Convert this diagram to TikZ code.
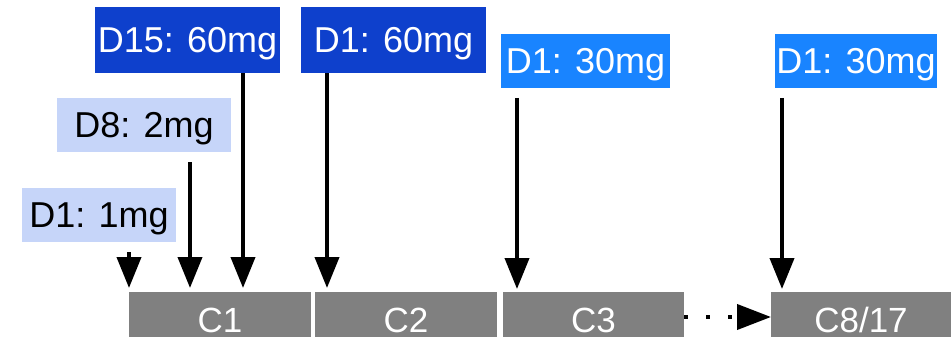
\documentclass[tikz,border=0pt]{standalone}
\usepackage{fontspec}
\setmainfont{Liberation Sans}
\usetikzlibrary{arrows.meta}
\definecolor{pale}{RGB}{198,213,249}
\definecolor{dark}{RGB}{14,64,204}
\definecolor{bright}{RGB}{25,132,255}
\definecolor{cyc}{RGB}{128,128,128}
\begin{document}
\begin{tikzpicture}[x=1pt,y=-1pt,
  lab/.style={inner sep=0pt, text height=25.8pt, text depth=0pt, font=\fontsize{36}{40}\selectfont},
  palelab/.style={lab, fill=pale, text=black, minimum height=54pt},
  darklab/.style={lab, fill=dark, text=white, minimum height=66pt},
  brightlab/.style={lab, fill=bright, text=white, minimum height=54pt},
  cycle/.style={fill=cyc, draw=none},
  cyctext/.style={text=white, inner sep=0pt, text height=25pt, text depth=0pt, font=\fontsize{35}{40}\selectfont},
  dose/.style={line width=4pt, -{Triangle[width=24pt,length=31pt]}},
]
\useasboundingbox (0,0) rectangle (951,337);
% cycle boxes
\fill[cycle] (129,292) rectangle (311,337);
\fill[cycle] (315,292) rectangle (497,337);
\fill[cycle] (503,292) rectangle (684,337);
\fill[cycle] (771,292) rectangle (951,337);
\node[cyctext] (c1) at (220,320) {C1};
\node[cyctext] (c2) at (406,320) {C2};
\node[cyctext] (c3) at (593.5,320) {C3};
\node[cyctext] (c8) at (861,320) {C8/17};
\coordinate (c3right) at (684,317);
\coordinate (c8left) at (771,317);
% labels
\node[palelab, minimum width=154pt] (l1) at (99,215) {D1: 1mg};
\node[palelab, minimum width=174pt] (l8) at (144,125) {D8: 2mg};
\node[darklab, minimum width=185pt] (l15) at (187.5,40) {D15: 60mg};
\node[darklab, minimum width=185pt] (l2) at (393.5,40) {D1: 60mg};
\node[brightlab, minimum width=169pt] (l3) at (585.5,61) {D1: 30mg};
\node[brightlab, minimum width=162pt] (l8b) at (856,61) {D1: 30mg};
% arrow start/end points
\coordinate (s1) at (129,252);
\coordinate (e1) at (129,288);
\coordinate (s8) at (190,162);
\coordinate (e8) at (190,288);
\coordinate (e15) at (243,288);
\coordinate (e2) at (327,288);
\coordinate (s3) at (517,98);
\coordinate (e3) at (517,289);
\coordinate (s8b) at (782,98);
\coordinate (e8b) at (782,289);
\draw[dose] (s1) -- (e1);
\draw[dose] (s8) -- (e8);
\draw[dose] (l15.south -| e15) -- (e15);
\draw[dose] (l2.south -| e2) -- (e2);
\draw[dose] (s3) -- (e3);
\draw[dose] (s8b) -- (e8b);
% continuation
\draw[line width=4pt, dash pattern=on 4pt off 18pt, -{Triangle[width=25pt,length=34pt]}] (c3right) -- (c8left);
\end{tikzpicture}
\end{document}
